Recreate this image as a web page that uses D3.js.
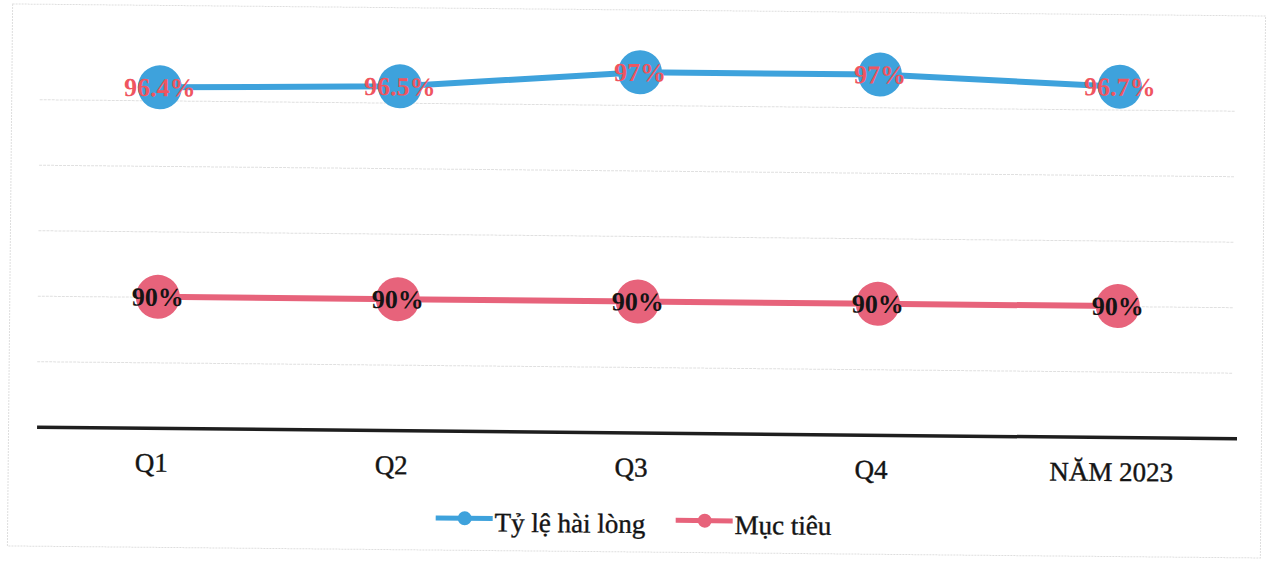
<!DOCTYPE html>
<html>
<head>
<meta charset="utf-8">
<script src="https://cdn.jsdelivr.net/npm/d3@7"></script>
<style>
  html, body { margin: 0; padding: 0; background: #fff; }
  svg { display: block; }
</style>
</head>
<body>
<svg id="chart" width="1269" height="563"></svg>
<script>
// Categories and series
const categories = ["Q1", "Q2", "Q3", "Q4", "NĂM 2023"];
const satisfaction = [96.4, 96.5, 97, 97, 96.7];   // Tỷ lệ hài lòng (%)
const target = [90, 90, 90, 90, 90];                // Mục tiêu (%)
const gridValues = [88, 90, 92, 94, 96];
const yDomain = [86, 98];
const seriesNames = ["Tỷ lệ hài lòng", "Mục tiêu"];

const W = 1269, H = 563;
const BLUE = "#3ea2dc", PINK = "#e7637b", LABEL_RED = "#ef5560", INK = "#141414";
const SERIF = "'Liberation Serif', 'Times New Roman', serif";

const svg = d3.select("#chart");
svg.append("rect").attr("width", W).attr("height", H).attr("fill", "#fff");

// whole sheet is slightly tilted
const g = svg.append("g").attr("transform", "rotate(0.55, 640, 280)");

// frame
g.append("rect")
  .attr("x", 10).attr("y", 10).attr("width", 1253).attr("height", 542)
  .attr("fill", "none").attr("stroke", "#dedede").attr("stroke-width", 1)
  .attr("stroke-dasharray", "2,1");

const x = d3.scaleBand().domain(categories).range([38, 1238]).paddingInner(0).paddingOuter(0);
const cx = c => x(c) + x.bandwidth() / 2;
const y = d3.scaleLinear().domain(yDomain).range([432.5, 39.5]);

// horizontal gridlines
g.append("g")
  .attr("transform", "translate(38,0)")
  .call(d3.axisLeft(y).tickValues(gridValues).tickSize(-1195).tickFormat(""))
  .call(a => a.select(".domain").remove())
  .call(a => a.selectAll(".tick line").attr("stroke", "#e0e0e0").attr("stroke-width", 1).attr("stroke-dasharray", "3,1"));

// category axis
const xAxis = g.append("g")
  .attr("transform", `translate(0,${y(yDomain[0])})`)
  .call(d3.axisBottom(x).tickSize(0).tickPadding(0).tickSizeOuter(0));
xAxis.select(".domain").attr("stroke", "#1e1e1e").attr("stroke-width", 3.5);
xAxis.selectAll(".tick text")
  .attr("font-family", SERIF).attr("font-size", 27).attr("fill", INK)
  .attr("stroke", INK).attr("stroke-width", 0.4)
  .attr("dy", null).attr("y", 44).attr("dx", -5);

function drawSeries(values, color, labelColor, labelWeight) {
  const pts = categories.map((c, i) => ({ c, v: values[i] }));
  const line = d3.line().x(d => cx(d.c)).y(d => y(d.v));
  const s = g.append("g");
  s.append("path").datum(pts)
    .attr("d", line).attr("fill", "none")
    .attr("stroke", color).attr("stroke-width", 6).attr("stroke-linejoin", "round");
  s.selectAll("circle").data(pts).join("circle")
    .attr("cx", d => cx(d.c)).attr("cy", d => y(d.v)).attr("r", 22).attr("fill", color);
  s.selectAll("text").data(pts).join("text")
    .attr("x", d => cx(d.c)).attr("y", d => y(d.v) + 9)
    .attr("text-anchor", "middle")
    .attr("font-family", SERIF).attr("font-size", 26).attr("font-weight", labelWeight)
    .attr("fill", labelColor)
    .text(d => d.v + "%");
}

drawSeries(target, PINK, INK, 900);
drawSeries(satisfaction, BLUE, LABEL_RED, 700);

// legend
const legend = g.append("g").attr("transform", "translate(0,520)");
const legendItems = [
  { name: seriesNames[0], color: BLUE, x0: 438 },
  { name: seriesNames[1], color: PINK, x0: 678 }
];
legendItems.forEach(it => {
  const li = legend.append("g").attr("transform", `translate(${it.x0},0)`);
  li.append("line").attr("x1", 0).attr("x2", 57).attr("y1", 0).attr("y2", 0)
    .attr("stroke", it.color).attr("stroke-width", 5);
  li.append("circle").attr("cx", 29).attr("cy", 0).attr("r", 7).attr("fill", it.color);
  li.append("text").attr("x", 59).attr("y", 13)
    .attr("font-family", SERIF).attr("font-size", 27).attr("fill", INK)
    .attr("stroke", INK).attr("stroke-width", 0.4)
    .text(it.name);
});
</script>
</body>
</html>
